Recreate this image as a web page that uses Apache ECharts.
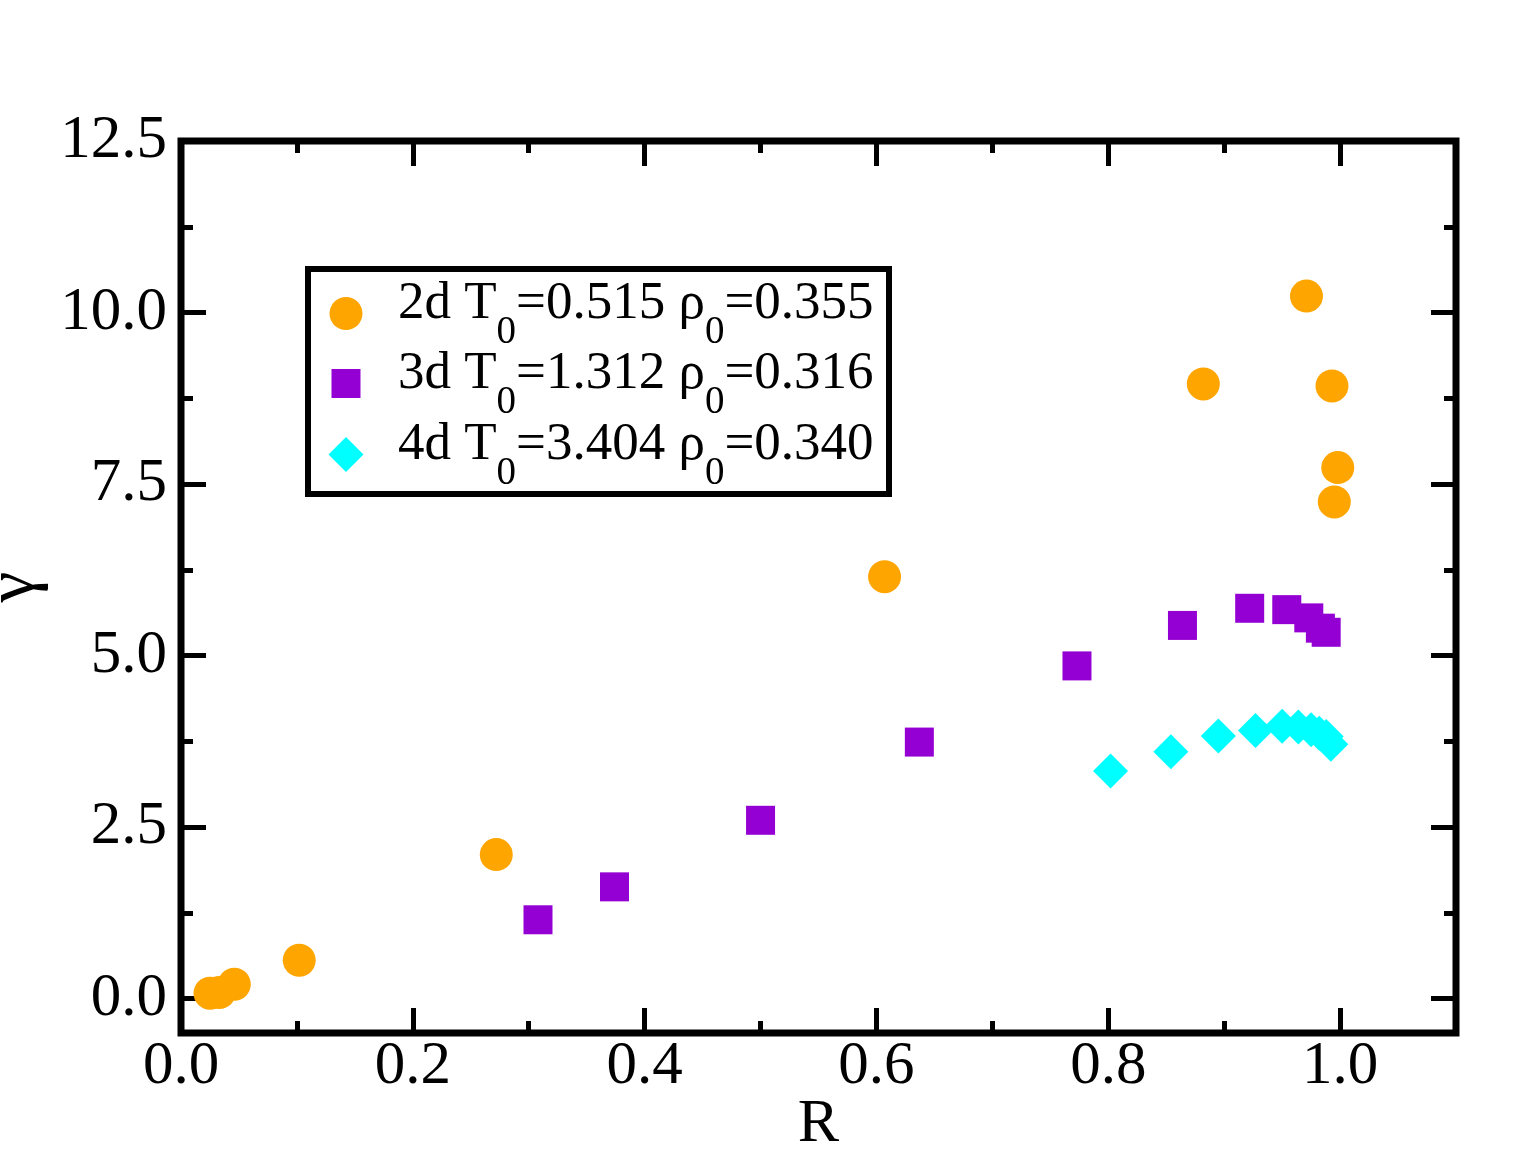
<!DOCTYPE html>
<html>
<head>
<meta charset="utf-8">
<script src="https://cdn.jsdelivr.net/npm/echarts@6/dist/echarts.min.js"></script>
<style>html,body{margin:0;padding:0;background:#fff;}#c{width:1515px;height:1153px;}</style>
</head>
<body>
<div id="c"></div>
<script>
// ---- data ----
const orangeR = [0.025, 0.033, 0.046, 0.102, 0.272, 0.607, 0.882, 0.971, 0.993, 0.998, 0.995];
const orangeG = [0.08, 0.09, 0.21, 0.56, 2.10, 6.15, 8.96, 10.24, 8.93, 7.74, 7.24];
const purpleR = [0.308, 0.374, 0.500, 0.637, 0.773, 0.864, 0.922, 0.954, 0.973, 0.983, 0.988];
const purpleG = [1.15, 1.63, 2.60, 3.74, 4.85, 5.44, 5.69, 5.67, 5.55, 5.40, 5.34];
const cyanR = [0.802, 0.854, 0.895, 0.927, 0.950, 0.964, 0.975, 0.982, 0.988, 0.992];
const cyanG = [3.32, 3.60, 3.83, 3.91, 3.97, 3.96, 3.92, 3.87, 3.82, 3.71];
const xMajor = [0, 0.2, 0.4, 0.6, 0.8, 1.0];
const xMinor = [0.1, 0.3, 0.5, 0.7, 0.9];
const yMajor = [0, 2.5, 5, 7.5, 10, 12.5];
const yMinor = [1.25, 3.75, 6.25, 8.75, 11.25];
const seriesNames = ['2d T0=0.515 ρ0=0.355', '3d T0=1.312 ρ0=0.316', '4d T0=3.404 ρ0=0.340'];
const legendRich = [
  '{f|2d T}{s|0}{n|=0.515 ρ}{s|0}{n|=0.355}',
  '{f|3d T}{s|0}{n|=1.312 ρ}{s|0}{n|=0.316}',
  '{f|4d T}{s|0}{n|=3.404 ρ}{s|0}{n|=0.340}'
];

const FONT = 'Liberation Serif';
const zip = (a, b) => a.map((v, i) => [v, b[i]]);

function xAxisDef(pos, values, len, labels) {
  return {
    type: 'value', min: 0, max: 1.1, position: pos,
    axisLine: {show: false, onZero: false},
    splitLine: {show: false},
    axisTick: {show: true, inside: true, length: len, customValues: values, lineStyle: {color: '#000', width: 5}},
    axisLabel: labels ? {show: true, customValues: values, fontFamily: FONT, fontSize: 61, color: '#000', margin: 3,
      formatter: v => v.toFixed(1)} : {show: false}
  };
}
function yAxisDef(pos, values, len, labels) {
  return {
    type: 'value', min: -0.5, max: 12.5, position: pos,
    axisLine: {show: false, onZero: false},
    splitLine: {show: false},
    axisTick: {show: true, inside: true, length: len, customValues: values, lineStyle: {color: '#000', width: 5}},
    axisLabel: labels ? {show: true, customValues: values, fontFamily: FONT, fontSize: 61, color: '#000', margin: 14,
      formatter: v => v.toFixed(1)} : {show: false}
  };
}

const xAxes = [
  xAxisDef('bottom', xMajor, 25, true),
  xAxisDef('bottom', xMinor, 12, false),
  xAxisDef('top', xMajor, 25, false),
  xAxisDef('top', xMinor, 12, false)
];
Object.assign(xAxes[0], {name: 'R', nameLocation: 'middle', nameGap: 61, nameMoveOverlap: false,
  nameTextStyle: {fontFamily: FONT, fontSize: 62, color: '#000'}});
const yAxes = [
  yAxisDef('left', yMajor, 25, true),
  yAxisDef('left', yMinor, 12, false),
  yAxisDef('right', yMajor, 25, false),
  yAxisDef('right', yMinor, 12, false)
];
Object.assign(yAxes[0], {name: 'γ', nameLocation: 'middle', nameGap: 131, nameRotate: 90, nameMoveOverlap: false,
  nameTextStyle: {fontFamily: FONT, fontSize: 70, color: '#000'}});

const colors = ['#FFA500', '#9400D3', '#00FFFF'];
const symbols = ['circle', 'rect', 'diamond'];
const symSizes = [33, 29, 35];
const dataSets = [zip(orangeR, orangeG), zip(purpleR, purpleG), zip(cyanR, cyanG)];

const legendCenters = [[346, 311], [346, 381], [346, 452]];
const textLeft = 398;
const legends = seriesNames.map((name, i) => {
  const sz = symSizes[i];
  const left = legendCenters[i][0] - sz / 2;
  const pad = textLeft - (left + sz + 5);
  const base = {fontFamily: FONT, fontSize: 53, color: '#000', lineHeight: 60, padding: [0, 0, 18, 0]};
  return {
    show: true, orient: 'vertical', padding: 0,
    left: left, top: legendCenters[i][1] - 36,
    itemWidth: sz, itemHeight: sz, selectedMode: false,
    data: [{name: name, icon: symbols[i]}],
    formatter: () => legendRich[i],
    textStyle: {
      fontFamily: FONT, fontSize: 53, color: '#000',
      rich: {
        f: Object.assign({}, base, {padding: [0, 0, 18, pad]}),
        n: Object.assign({}, base),
        s: {fontFamily: FONT, fontSize: 39, color: '#000', lineHeight: 60, padding: [38, 0, 0, 0]}
      }
    }
  };
});

const series = seriesNames.map((name, i) => ({
  name: name, type: 'scatter', xAxisIndex: 0, yAxisIndex: 0,
  symbol: symbols[i], symbolSize: symSizes[i],
  itemStyle: {color: colors[i], opacity: 1},
  emphasis: {disabled: true},
  data: dataSets[i], z: 3 + i
}));

const chart = echarts.init(document.getElementById('c'), null, {renderer: 'canvas'});
chart.setOption({
  animation: false,
  backgroundColor: '#fff',
  grid: {left: 181, right: 59, top: 141, bottom: 120, show: true, borderColor: '#000', borderWidth: 7,
    backgroundColor: 'transparent', z: 10, containLabel: false, outerBoundsMode: 'none'},
  xAxis: xAxes,
  yAxis: yAxes,
  legend: legends,
  graphic: [{
    type: 'rect', left: 305, top: 266, z: 100,
    shape: {x: 0, y: 0, width: 581, height: 225},
    style: {fill: 'none', stroke: '#000', lineWidth: 6}
  }],
  series: series
});
</script>
</body>
</html>
